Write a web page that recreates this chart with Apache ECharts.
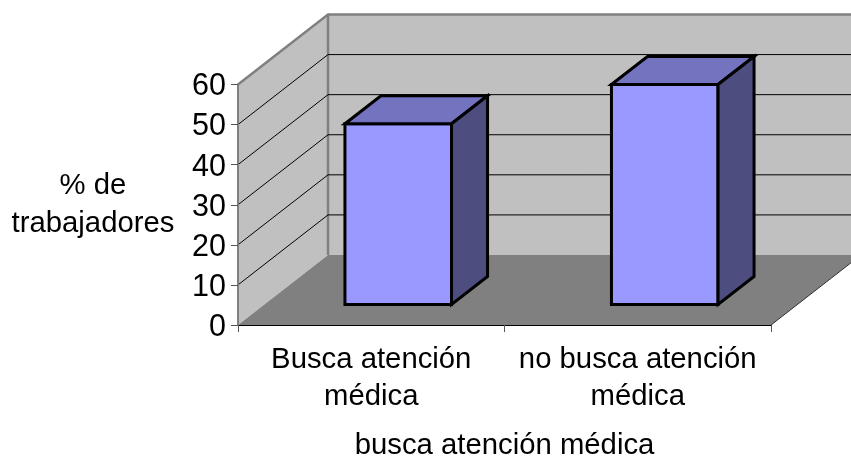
<!DOCTYPE html>
<html>
<head>
<meta charset="utf-8">
<style>html,body{margin:0;padding:0;background:#fff}#chart{width:851px;height:457px}</style>
<script src="https://cdn.jsdelivr.net/npm/echarts@6/dist/echarts.min.js"></script>
</head>
<body>
<div id="chart"></div>
<script>
// Survey result: share of workers who seek medical attention
const categories = ['Busca atención\nmédica', 'no busca atención\nmédica'];
const percentages = [45.1, 54.9];
const yTicks = [10, 20, 30, 40, 50];
const yMax = 60;

// Oblique projection used for the pseudo-3D box
const DEPTH_X = 90;
const DEPTH_Y = -70;
const BAR_OFFSET_X = 27;    // bar's front face, measured from the front of the floor
const BAR_OFFSET_Y = -20.5;
const BAR_DEPTH = 0.4;      // how much of the depth the bar occupies
const GAP_WIDTH = 1.5;      // gap between bars, relative to bar width

const font = '"Liberation Sans", Arial, sans-serif';
const textSize = 29.3;
const chart = echarts.init(document.getElementById('chart'), null, { renderer: 'canvas' });

function poly(points, fill, stroke, lineWidth) {
  return {
    type: 'polygon',
    shape: { points },
    style: { fill, stroke: stroke || null, lineWidth: lineWidth || 0, lineJoin: 'miter' }
  };
}
function line(points, stroke, lineWidth) {
  return {
    type: 'polyline',
    shape: { points },
    style: { fill: null, stroke, lineWidth }
  };
}

// Floor and the two walls behind the bars
function renderRoom(params, api) {
  const c = params.coordSys;
  const l = c.x, r = c.x + c.width, t = c.y, b = c.y + c.height;
  const dx = DEPTH_X, dy = DEPTH_Y;
  return {
    type: 'group',
    children: [
      poly([[l + dx, t + dy], [r + dx, t + dy], [r + dx, b + dy], [l + dx, b + dy]], '#C0C0C0'),
      poly([[l, t], [l + dx, t + dy], [l + dx, b + dy], [l, b]], '#C0C0C0'),
      poly([[l, b], [l + dx, b + dy], [r + dx, b + dy], [r, b]], '#808080'),
      line([[l, t], [l + dx, t + dy], [r + dx, t + dy]], '#808080', 2.5),
      line([[l + dx, t + dy], [l + dx, b + dy]], '#808080', 2.5),
      line([[r, b], [r + dx, b + dy]], '#303030', 1)
    ]
  };
}

// One gridline per tick, running along the side wall and across the back wall
function renderGridline(params, api) {
  const c = params.coordSys;
  const p = api.coord([0, api.value(0)]);
  const l = c.x, r = c.x + c.width;
  return line([
    [l, p[1]],
    [l + DEPTH_X, p[1] + DEPTH_Y],
    [r + DEPTH_X, p[1] + DEPTH_Y]
  ], '#000', 1);
}

// Bar drawn as front, top and side faces
function renderBar(params, api) {
  const idx = api.value(0);
  const base = api.coord([idx, 0]);
  const top = api.coord([idx, api.value(1)]);
  const band = api.size([1, 0])[0];
  const w = band / (1 + GAP_WIDTH);
  const ox = BAR_DEPTH * DEPTH_X, oy = BAR_DEPTH * DEPTH_Y;
  const x0 = base[0] - w / 2 + BAR_OFFSET_X, x1 = x0 + w;
  const y0 = base[1] + BAR_OFFSET_Y, y1 = top[1] + BAR_OFFSET_Y;
  const edge = '#000';
  return {
    type: 'group',
    children: [
      poly([[x0, y1], [x1, y1], [x1, y0], [x0, y0]], '#9999FF', edge, 3),
      poly([[x0, y1], [x0 + ox, y1 + oy], [x1 + ox, y1 + oy], [x1, y1]], '#7373BF', edge, 3),
      poly([[x1, y1], [x1 + ox, y1 + oy], [x1 + ox, y0 + oy], [x1, y0]], '#4D4D80', edge, 3)
    ]
  };
}

chart.setOption({
  animation: false,
  backgroundColor: '#fff',
  grid: { left: 238, top: 84.5, width: 533, height: 240.5, containLabel: false, outerBoundsMode: 'none' },
  xAxis: {
    type: 'category',
    data: categories,
    z: 5,
    name: 'busca atención médica',
    nameLocation: 'middle',
    nameGap: 121,
    nameMoveOverlap: false,
    nameTextStyle: { fontFamily: font, fontSize: textSize, color: '#000', verticalAlign: 'middle' },
    axisLine: { lineStyle: { color: '#000', width: 1 } },
    axisTick: { show: true, alignWithLabel: false, length: 7, lineStyle: { color: '#555', width: 1 } },
    axisLabel: { fontFamily: font, fontSize: textSize, color: '#000', margin: 16, lineHeight: 37, interval: 0 },
    splitLine: { show: false }
  },
  yAxis: {
    type: 'value',
    min: 0,
    max: yMax,
    interval: 10,
    z: 5,
    name: '% de\ntrabajadores',
    nameLocation: 'middle',
    nameRotate: 0,
    nameGap: 145,
    nameMoveOverlap: false,
    nameTextStyle: { fontFamily: font, fontSize: textSize, color: '#000', lineHeight: 38, align: 'center', verticalAlign: 'middle' },
    axisLine: { show: true, lineStyle: { color: '#808080', width: 2 } },
    axisTick: { show: true, length: 7, lineStyle: { color: '#555', width: 1 } },
    axisLabel: {
      color: '#000',
      margin: 12,
      formatter: '{n|{value}}',
      rich: { n: { fontFamily: font, fontSize: 30.5, color: '#000', padding: [5, 0, 0, 0] } }
    },
    splitLine: { show: false }
  },
  series: [
    { type: 'custom', coordinateSystem: 'cartesian2d', z: 1, silent: true, clip: false,
      renderItem: renderRoom, data: [[0, 0]] },
    { type: 'custom', coordinateSystem: 'cartesian2d', z: 2, silent: true, clip: false,
      renderItem: renderGridline, encode: { y: 0 }, data: yTicks.map(v => [v]) },
    { type: 'custom', coordinateSystem: 'cartesian2d', z: 3, clip: false,
      renderItem: renderBar, encode: { x: 0, y: 1 },
      data: percentages.map((v, i) => [i, v]) }
  ]
});
</script>
</body>
</html>
